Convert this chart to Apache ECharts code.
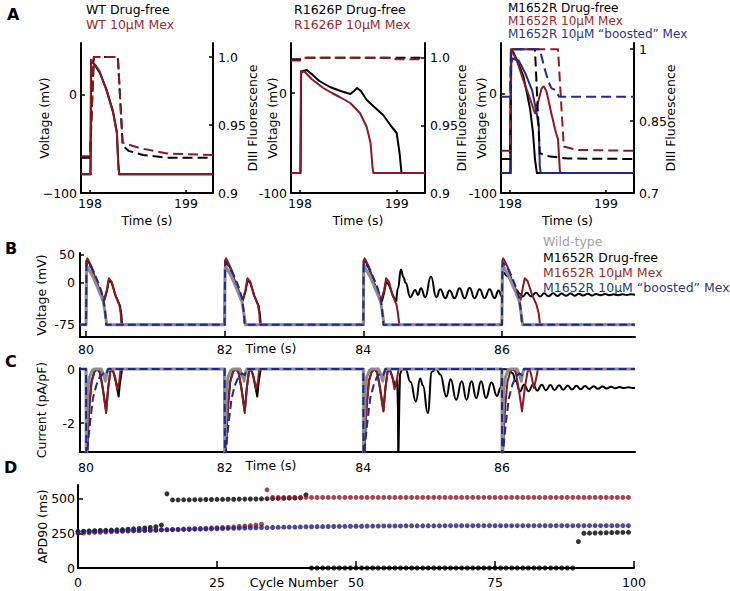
<!DOCTYPE html>
<html><head><meta charset="utf-8">
<script src="https://cdn.jsdelivr.net/npm/echarts@6/dist/echarts.min.js"></script>
<style>html,body{margin:0;padding:0;background:#fff}#c{width:730px;height:591px}</style>
</head><body><div id="c"></div><script>
// ---------- Panel A1 (WT) ----------
const a1FreeV = [[197.906,-81],[198.005,-81],[198.012,35],[198.03,33],[198.06,29],[198.1,23],[198.17,6],[198.24,-17],[198.28,-38],[198.295,-70],[198.305,-81],[199.281,-81]];
const a1MexV  = [[197.906,-81],[198.005,-81],[198.01,36],[198.025,34],[198.06,30],[198.1,24],[198.17,5],[198.24,-18],[198.28,-39],[198.295,-75],[198.305,-81],[199.281,-81]];
const a1FreeF = [[197.906,0.926],[198.0,0.926],[198.04,1.0],[198.29,1.0],[198.34,0.935],[198.4,0.931],[198.55,0.928],[198.8,0.926],[199.281,0.926]];
const a1MexF  = [[197.906,0.927],[198.0,0.927],[198.04,1.0],[198.29,1.0],[198.34,0.937],[198.52,0.933],[198.8,0.929],[199.281,0.928]];
// ---------- Panel A2 (R1626P) ----------
const a2FreeV = [[197.907,-80],[198.005,-80],[198.012,20],[198.03,22],[198.07,23],[198.12,19],[198.2,12],[198.31,6],[198.42,2],[198.52,-1],[198.56,2],[198.59,5],[198.63,2],[198.69,-7],[198.78,-15],[198.86,-22],[198.95,-34],[199.0,-40],[199.03,-60],[199.05,-80],[199.293,-80]];
const a2MexV  = [[197.907,-80],[198.005,-80],[198.01,22],[198.05,21],[198.12,14],[198.24,5],[198.33,0],[198.41,-4],[198.52,-10],[198.62,-20],[198.69,-34],[198.73,-50],[198.75,-74],[198.76,-80],[199.293,-80]];
const a2FreeF = [[197.907,0.999],[198.0,0.999],[198.02,1.0],[199.293,1.0]];
const a2MexF  = [[197.907,0.998],[198.0,0.998],[198.02,1.0],[198.9,1.0],[199.0,0.999],[199.293,0.999]];
// ---------- Panel A3 (M1652R) ----------
const a3FreeV  = [[197.906,-80],[198.005,-80],[198.012,43],[198.03,42],[198.07,34],[198.14,17],[198.21,-16],[198.24,-40],[198.26,-66],[198.28,-80],[199.292,-80]];
const a3MexV   = [[197.906,-80],[198.005,-80],[198.012,44],[198.025,42],[198.07,33],[198.14,13],[198.21,-6],[198.26,-20],[198.3,-6],[198.33,5],[198.35,7],[198.38,2],[198.43,-20],[198.48,-40],[198.5,-46],[198.52,-78],[198.53,-80],[199.292,-80]];
const a3BoostV = [[197.906,-80],[198.005,-80],[198.012,30],[198.025,35],[198.09,33],[198.16,20],[198.23,3],[198.27,-16],[198.3,-33],[198.31,-73],[198.32,-80],[199.292,-80]];
const a3FreeF  = [[197.906,0.771],[198.0,0.771],[198.01,1.0],[198.26,1.0],[198.31,0.783],[198.42,0.776],[198.6,0.772],[199.292,0.771]];
const a3MexF   = [[197.906,0.788],[198.0,0.788],[198.01,1.0],[198.5,1.0],[198.56,0.797],[198.7,0.79],[199.292,0.788]];
const a3BoostF = [[197.906,0.901],[198.0,0.901],[198.01,1.0],[198.31,1.0],[198.36,0.96],[198.4,0.933],[198.43,0.919],[198.47,0.915],[198.5,0.905],[198.51,0.901],[199.292,0.901]];
// ---------- Panel B (voltage, 4 beats) ----------
const bWt = [[79.913,-76],[80.0,-76],[80.006,26],[80.02,28],[80.1,11],[80.2,-19],[80.25,-34],[80.28,-58],[80.3,-76],
 [82.0,-76],[82.006,26],[82.02,28],[82.1,11],[82.2,-19],[82.25,-34],[82.28,-58],[82.3,-76],
 [84.0,-76],[84.006,26],[84.02,28],[84.1,11],[84.2,-19],[84.25,-34],[84.28,-58],[84.3,-76],
 [86.0,-76],[86.006,26],[86.02,29],[86.1,12],[86.2,-18],[86.25,-33],[86.28,-58],[86.3,-76],[87.92,-76]];
const bBoost = [[79.913,-76],[80.0,-76],[80.006,30],[80.02,36],[80.1,23],[80.2,-7],[80.25,-28],[80.275,-52],[80.29,-76],
 [82.0,-76],[82.006,30],[82.02,36],[82.1,23],[82.2,-7],[82.25,-28],[82.275,-52],[82.29,-76],
 [84.0,-76],[84.006,30],[84.02,36],[84.1,23],[84.2,-7],[84.25,-28],[84.275,-52],[84.29,-76],
 [86.0,-76],[86.006,30],[86.02,36],[86.1,23],[86.2,-7],[86.25,-28],[86.275,-52],[86.29,-76],[87.92,-76]];
const bMex = [[79.913,-76],[80.0,-76],[80.006,40],[80.02,44],[80.08,29],[80.15,2],[80.23,-22],[80.26,-31],[80.3,-13],[80.33,8],[80.37,2],[80.42,-22],[80.48,-40],[80.5,-55],[80.51,-76],
 [82.0,-76],[82.006,40],[82.02,44],[82.08,29],[82.15,2],[82.23,-22],[82.26,-31],[82.3,-13],[82.33,8],[82.37,2],[82.42,-22],[82.48,-40],[82.5,-55],[82.51,-76],
 [84.0,-76],[84.006,40],[84.02,44],[84.08,29],[84.15,2],[84.23,-22],[84.26,-31],[84.3,-13],[84.33,8],[84.37,2],[84.42,-22],[84.48,-40],[84.5,-55],[84.52,-76],
 [86.0,-76],[86.006,40],[86.02,44],[86.08,29],[86.15,2],[86.23,-22],[86.27,-31],[86.3,-10],[86.33,8],[86.37,3],[86.43,-20],[86.5,-40],[86.53,-55],[86.55,-76],[87.92,-76]];
const bFree = [[79.913,-76],[80.0,-76],[80.006,38],[80.02,42],[80.08,27],[80.15,0],[80.23,-24],[80.26,-33],[80.3,-16],[80.33,5],[80.37,0],[80.43,-24],[80.49,-42],[80.51,-58],[80.52,-76],
 [82.0,-76],[82.006,38],[82.02,42],[82.08,27],[82.15,0],[82.23,-24],[82.26,-33],[82.3,-16],[82.33,5],[82.37,0],[82.43,-24],[82.49,-42],[82.51,-58],[82.52,-76],
 [84.0,-76],[84.006,38],[84.02,42],[84.08,27],[84.15,0],[84.23,-24],[84.27,-33],[84.3,-18],[84.33,2],[84.37,-4],[84.43,-24],[84.476,-34]];
const bFreeEad = [[84.476,-34],[84.5,-10],[84.543,24],[84.58,10],[84.61,0],[84.678,-26],[84.75,-13],[84.789,-22],[84.832,-10],[84.894,-26],[84.976,11],
 [85.053,-26],[85.111,-12],[85.183,-28],[85.245,-14],[85.317,-28],[85.389,-10],[85.462,-28],[85.534,-9],[85.606,-28],[85.678,-12],[85.75,-28],[85.822,-12],[85.894,-28],[85.952,-14],[85.995,-24],
 [86.006,14],[86.02,18],[86.08,12],[86.15,0],[86.21,-13],[86.26,-20],[86.3,-25],[86.36,-18],[86.42,-25],[86.49,-18],[86.55,-25],[86.61,-19],[86.67,-24.5],[86.74,-19],[86.8,-24],[86.86,-19.5],[86.92,-23.5],[86.99,-19.5],[87.05,-23.5],[87.11,-20],[87.17,-23],[87.24,-20],[87.3,-23],[87.36,-20.5],[87.42,-22.5],[87.49,-20.5],[87.55,-22.5],[87.61,-21],[87.67,-22.5],[87.74,-21],[87.8,-22],[87.86,-21],[87.92,-21.5]];
// ---------- Panel C (current) ----------
const cWt = [[79.913,0],[80.0,0],[80.004,-3.6],[80.012,-2.2],[80.025,-0.9],[80.05,-0.3],[80.09,-0.05],[80.12,0],[80.22,0],[80.25,-0.2],[80.28,-0.45],[80.3,-0.15],[80.32,0],
 [82.0,0],[82.004,-3.6],[82.012,-2.2],[82.025,-0.9],[82.05,-0.3],[82.09,-0.05],[82.12,0],[82.22,0],[82.25,-0.2],[82.28,-0.45],[82.3,-0.15],[82.32,0],
 [84.0,0],[84.004,-3.6],[84.012,-2.2],[84.025,-0.9],[84.05,-0.3],[84.09,-0.05],[84.12,0],[84.22,0],[84.25,-0.2],[84.28,-0.45],[84.3,-0.15],[84.32,0],
 [86.0,0],[86.004,-3.6],[86.012,-2.2],[86.025,-0.9],[86.05,-0.3],[86.09,-0.05],[86.12,0],[86.22,0],[86.25,-0.2],[86.28,-0.45],[86.3,-0.15],[86.32,0],[87.92,0]];
const cBoost = [[79.913,0],[80.0,0],[80.004,-3.6],[80.03,-2.67],[80.06,-1.94],[80.1,-1.08],[80.15,-0.59],[80.2,-0.28],[80.25,-0.17],[80.29,-0.22],[80.32,0],
 [82.0,0],[82.004,-3.6],[82.03,-2.67],[82.06,-1.94],[82.1,-1.08],[82.15,-0.59],[82.2,-0.28],[82.25,-0.17],[82.29,-0.22],[82.32,0],
 [84.0,0],[84.004,-3.6],[84.03,-2.67],[84.06,-1.94],[84.1,-1.08],[84.15,-0.59],[84.2,-0.28],[84.25,-0.17],[84.29,-0.22],[84.32,0],
 [86.0,0],[86.004,-3.6],[86.03,-2.67],[86.06,-1.94],[86.1,-1.08],[86.15,-0.59],[86.2,-0.28],[86.25,-0.17],[86.29,-0.22],[86.32,0],[87.92,0]];
const cMex = [[79.913,0],[80.0,0],[80.004,-3.6],[80.015,-3.2],[80.03,-2.2],[80.05,-1.32],[80.08,-0.47],[80.12,-0.1],[80.16,0],[80.2,-0.12],[80.24,-0.7],[80.29,-1.63],[80.32,-0.7],[80.35,-0.1],[80.38,0],[80.42,-0.3],[80.45,-0.75],[80.48,-0.45],[80.5,0],
 [82.0,0],[82.004,-3.6],[82.015,-3.2],[82.03,-2.2],[82.05,-1.32],[82.08,-0.47],[82.12,-0.1],[82.16,0],[82.2,-0.12],[82.24,-0.7],[82.29,-1.63],[82.32,-0.7],[82.35,-0.1],[82.38,0],[82.42,-0.3],[82.45,-0.75],[82.48,-0.45],[82.5,0],
 [84.0,0],[84.004,-3.6],[84.015,-3.2],[84.03,-2.2],[84.05,-1.32],[84.08,-0.47],[84.12,-0.1],[84.16,0],[84.2,-0.12],[84.24,-0.7],[84.29,-1.57],[84.32,-0.7],[84.35,-0.1],[84.38,0],[84.42,-0.3],[84.45,-0.75],[84.48,-0.45],[84.51,0],
 [86.0,0],[86.004,-3.6],[86.015,-3.2],[86.03,-2.2],[86.05,-1.32],[86.08,-0.47],[86.12,-0.1],[86.16,0],[86.2,-0.12],[86.24,-0.7],[86.29,-1.57],[86.33,-0.7],[86.37,-0.1],[86.4,0],[86.43,-0.3],[86.46,-0.7],[86.49,-0.4],[86.52,0],[87.92,0]];
const cFree = [[79.913,0],[80.0,0],[80.004,-3.6],[80.015,-3.2],[80.03,-2.2],[80.05,-1.3],[80.08,-0.45],[80.12,-0.1],[80.16,0],[80.2,-0.12],[80.24,-0.68],[80.29,-1.55],[80.32,-0.68],[80.35,-0.1],[80.38,0],[80.41,-0.25],[80.44,-0.6],[80.47,-1.02],[80.49,-0.5],[80.52,0],
 [82.0,0],[82.004,-3.6],[82.015,-3.2],[82.03,-2.2],[82.05,-1.3],[82.08,-0.45],[82.12,-0.1],[82.16,0],[82.2,-0.12],[82.24,-0.68],[82.29,-1.55],[82.32,-0.68],[82.35,-0.1],[82.38,0],[82.41,-0.25],[82.44,-0.6],[82.47,-1.02],[82.49,-0.5],[82.52,0],
 [84.0,0],[84.004,-3.6],[84.015,-3.2],[84.03,-2.2],[84.05,-1.3],[84.08,-0.45],[84.12,-0.1],[84.16,0],[84.2,-0.12],[84.24,-0.68],[84.29,-1.55],[84.32,-0.68],[84.35,-0.1],[84.38,0],[84.42,-0.3],[84.46,-0.65],[84.49,-0.4],[84.5,-1.5],[84.505,-3.6],[84.515,-3.6],[84.52,-1.2],[84.53,-0.2],[84.56,0]];
const cFreeEad = [[84.56,0],[84.61,-0.02],[84.68,-0.47],[84.76,-1.2],[84.82,-0.35],[84.86,-0.6],[84.93,-1.63],[84.99,-0.1],[85.05,0],[85.11,-0.2],[85.2,-1.02],[85.26,-0.38],[85.34,-1.14],[85.42,-0.45],[85.49,-1.14],[85.56,-0.45],[85.63,-1.07],[85.7,-0.45],[85.77,-1.07],[85.85,-0.5],[85.93,-1.0],[85.98,-0.7],
 [86.01,0],[86.1,-0.02],[86.15,-0.15],[86.2,-0.45],[86.26,-0.83],[86.32,-0.58],[86.385,-0.82],[86.45,-0.57],[86.51,-0.8],[86.575,-0.58],[86.635,-0.79],[86.7,-0.59],[86.76,-0.78],[86.825,-0.6],[86.885,-0.77],[86.95,-0.61],[87.01,-0.76],[87.075,-0.62],[87.135,-0.75],[87.2,-0.63],[87.26,-0.74],[87.325,-0.64],[87.385,-0.73],[87.45,-0.65],[87.51,-0.72],[87.575,-0.66],[87.635,-0.71],[87.7,-0.665],[87.76,-0.705],[87.825,-0.675],[87.885,-0.7],[87.92,-0.69]];
// ---------- Panel D (APD90 per cycle, cycles 0..99) ----------
const dBoost = [263,264,265,266,267,268,268,269,270,271, 272,273,274,274,275,276,277,278,278,279,
 280,281,281,282,283,284,285,286,287,288, 289,290,291,292,292,293,294,295,296,296,
 297,298,298,299,299,300,300,301,301,302, 302,302,303,303,303,304,304,304,304,305,
 305,305,305,305,305,305,306,306,306,306, 306,306,306,306,306,306,306,306,306,306,
 306,306,306,306,306,306,306,306,306,306, 306,306,306,306,306,306,306,306,306,306];
const dMex = [251,253,255,257,258,260,262,263,265,266, 268,269,270,272,273,275,276,278,279,281,
 282,284,285,287,289,291,293,295,297,300, 303,306,310,316,565,510,510,510,510,510,
 510,510,510,510,510,510,510,510,510,510, 510,510,510,510,510,510,510,510,510,510,
 510,510,510,510,510,510,510,510,510,510, 510,510,510,510,510,510,510,510,510,510,
 510,510,510,510,510,510,510,510,510,510, 510,510,510,510,510,510,510,510,510,510];
const dFree = [265,266,268,269,271,272,274,276,278,280, 283,286,289,293,298,310,536,492,492,493,
 493,494,494,495,495,496,496,497,497,498, 498,499,499,500,501,502,503,504,505,506,
 507,529,0,0,0,0,0,0,0,0, 0,0,0,0,0,0,0,0,0,0,
 0,0,0,0,0,0,0,0,0,0, 0,0,0,0,0,0,0,0,0,0,
 0,0,0,0,0,0,0,0,0,0, 191,251,252,253,254,255,256,257,257,258];

const FONT = 'DejaVu Sans';
const FS = 12.5;
const BLACK = '#000000', RED = '#8b1a22', BLUE = '#1f2a8c', GRAY = '#8c8c8c';

function ax(o, vals, tickLen, margin, fmt) {
  return Object.assign({
    type: 'value',
    axisLine: {show: true, onZero: false, lineStyle: {color: '#000', width: 2}},
    splitLine: {show: false},
    axisTick: {show: true, inside: true, length: tickLen, customValues: vals, lineStyle: {color: '#000', width: 1.5}},
    axisLabel: Object.assign({show: true, customValues: vals, margin: margin, color: '#000', fontSize: FS, fontFamily: FONT}, fmt ? {formatter: fmt} : {}),
    nameTextStyle: {color: '#000', fontSize: FS, fontFamily: FONT},
    nameLocation: 'middle',
    nameMoveOverlap: false
  }, o);
}
const fmt1 = v => (Math.abs(v - 1) < 1e-9 ? '1.0' : (Math.abs(v - 0.9) < 1e-9 ? '0.9' : '0.95'));

function L(data, xi, yi, color, width, dash, z, smooth) {
  return {type: 'line', data: data, xAxisIndex: xi, yAxisIndex: yi, showSymbol: false, symbol: 'none', silent: true,
    smooth: smooth || false, smoothMonotone: smooth ? 'x' : undefined,
    lineStyle: {color: color, width: width, type: dash || 'solid', cap: 'butt', join: 'round'}, z: z, animation: false};
}
function S(vals, color, z) {
  return {type: 'scatter', data: vals.map((v, i) => [i, v]), xAxisIndex: 5, yAxisIndex: 8, symbol: 'circle', symbolSize: 5,
    itemStyle: {color: color}, silent: true, z: z, animation: false};
}
const dA = [10, 5], dB = [8, 4];

function T(text, x, y, color, size, weight, align) {
  return {type: 'text', x: x, y: y, silent: true,
    style: {text: text, fill: color, fontSize: size || FS, fontFamily: FONT, fontWeight: weight || 'normal', align: align || 'left', verticalAlign: 'middle'}};
}

const chart = echarts.init(document.getElementById('c'), null, {renderer: 'svg', width: 730, height: 591});
chart.setOption({
  animation: false,
  backgroundColor: '#fff',
  grid: [
    {left: 81, top: 43, width: 132, height: 150, containLabel: false, outerBoundsMode: 'none'},
    {left: 291, top: 43, width: 134, height: 150, containLabel: false, outerBoundsMode: 'none'},
    {left: 501, top: 43, width: 133, height: 150, containLabel: false, outerBoundsMode: 'none'},
    {left: 80, top: 253, width: 555, height: 84, containLabel: false, outerBoundsMode: 'none'},
    {left: 80, top: 368, width: 555, height: 84, containLabel: false, outerBoundsMode: 'none'},
    {left: 78, top: 485, width: 556, height: 83, containLabel: false, outerBoundsMode: 'none'}
  ],
  xAxis: [
    ax({gridIndex: 0, min: 197.906, max: 199.281, name: 'Time (s)', nameGap: 21}, [198, 199], 3, 4),
    ax({gridIndex: 1, min: 197.907, max: 199.293, name: 'Time (s)', nameGap: 21}, [198, 199], 3, 4),
    ax({gridIndex: 2, min: 197.906, max: 199.292, name: 'Time (s)', nameGap: 21}, [198, 199], 3, 4),
    ax({gridIndex: 3, min: 79.913, max: 87.92}, [80, 82, 84, 86], 6, 6),
    ax({gridIndex: 4, min: 79.913, max: 87.92}, [80, 82, 84, 86], 6, 9),
    ax({gridIndex: 5, min: 0, max: 100}, [0, 25, 50, 75, 100], 7, 8)
  ],
  yAxis: [
    ax({gridIndex: 0, min: -100, max: 53, name: 'Voltage (mV)', nameGap: 30, nameRotate: 90}, [-100, 0], 4, 4, v => (v < 0 ? '\u2212100' : '0')),
    ax({gridIndex: 0, position: 'right', min: 0.9, max: 1.0103, name: 'DIII Fluorescence', nameGap: 33, nameRotate: 90}, [0.9, 0.95, 1.0], 4, 5, fmt1),
    ax({gridIndex: 1, min: -100, max: 50, name: 'Voltage (mV)', nameGap: 12, nameRotate: 90}, [-100, 0], 4, 4),
    ax({gridIndex: 1, position: 'right', min: 0.9, max: 1.011, name: 'DIII Fluorescence', nameGap: 30, nameRotate: 90}, [0.9, 0.95, 1.0], 4, 5, fmt1),
    ax({gridIndex: 2, min: -100, max: 50.5, name: 'Voltage (mV)', nameGap: 13, nameRotate: 90}, [-100, 0], 4, 4),
    ax({gridIndex: 2, position: 'right', min: 0.7, max: 1.013, name: 'DIII Fluorescence', nameGap: 30, nameRotate: 90}, [0.7, 0.85, 1], 4, 5),
    ax({gridIndex: 3, min: -97.9, max: 53.6, name: 'Voltage (mV)', nameGap: 32, nameRotate: 90}, [-75, 0, 50], 4, 5),
    ax({gridIndex: 4, min: -3.07, max: 0.037, name: 'Current (pA/pF)', nameGap: 32, nameRotate: 90}, [-2, 0], 4, 5),
    ax({gridIndex: 5, min: 0, max: 600, name: 'APD90 (ms)', nameGap: 29, nameRotate: 90}, [0, 250, 500], 5, 3)
  ],
  series: [
    // A1
    L(a1FreeF, 0, 1, BLACK, 2, dA, 2), L(a1MexF, 0, 1, RED, 2, dA, 3),
    L(a1FreeV, 0, 0, BLACK, 2, null, 4), L(a1MexV, 0, 0, RED, 2, null, 5),
    // A2
    L(a2FreeF, 1, 3, BLACK, 2, dA, 2), L(a2MexF, 1, 3, RED, 2, dA, 3),
    L(a2FreeV, 1, 2, BLACK, 2, null, 4), L(a2MexV, 1, 2, RED, 2, null, 5),
    // A3
    L(a3FreeV, 2, 4, BLACK, 2, null, 2), L(a3MexV, 2, 4, RED, 2, null, 3), L(a3BoostV, 2, 4, BLUE, 2, null, 4),
    L(a3FreeF, 2, 5, BLACK, 2, dA, 5), L(a3MexF, 2, 5, RED, 2, dA, 6), L(a3BoostF, 2, 5, BLUE, 2, dA, 7),
    // B
    L(bFree, 3, 6, BLACK, 2, null, 2), L(bFreeEad, 3, 6, BLACK, 2, null, 2, 0.5),
    L(bMex, 3, 6, RED, 2, null, 3), L(bWt, 3, 6, GRAY, 3, null, 4), L(bBoost, 3, 6, BLUE, 2, dB, 5),
    // C
    L(cFree, 4, 7, BLACK, 2, null, 2), L(cFreeEad, 4, 7, BLACK, 2, null, 2, 0.5),
    L(cMex, 4, 7, RED, 2, null, 3), L(cWt, 4, 7, GRAY, 3, null, 4), L(cBoost, 4, 7, BLUE, 2, dB, 5),
    // D
    S(dFree, '#000000', 2), S(dMex, '#8b1a2a', 3), S(dBoost, '#1c1f80', 4)
  ],
  graphic: [
    T('A', 7, 14, '#000', 16, 'bold'), T('B', 5, 248, '#000', 16, 'bold'), T('C', 5, 361, '#000', 16, 'bold'), T('D', 4, 467, '#000', 16, 'bold'),
    T('WT Drug-free', 86, 9, '#000'), T('WT 10μM Mex', 86, 24, '#9c2a2a'),
    T('R1626P Drug-free', 294, 9, '#000'), T('R1626P 10μM Mex', 294, 24, '#9c2a2a'),
    T('M1652R Drug-free', 508, 8, '#000', 12), T('M1652R 10μM Mex', 508, 21, '#9c2a2a', 12), T('M1652R 10μM \u201cboosted\u201d Mex', 508, 33.5, '#2b3585', 12),
    T('Wild-type', 543, 241, '#a0a0a0'), T('M1652R Drug-free', 543, 257, '#000'), T('M1652R 10μM Mex', 543, 272, '#9c2a2a'), T('M1652R 10μM \u201cboosted\u201d Mex', 543, 287, '#2b3585'),
    T('Time (s)', 271, 348, '#000', FS, 'normal', 'center'),
    T('Time (s)', 271, 465, '#000', FS, 'normal', 'center'),
    T('Cycle Number', 294, 582, '#000', FS, 'normal', 'center')
  ]
});
</script></body></html>
